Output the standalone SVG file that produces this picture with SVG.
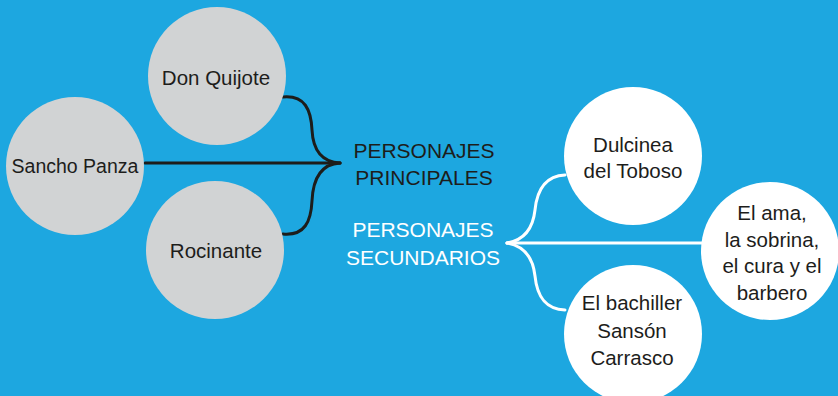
<svg xmlns="http://www.w3.org/2000/svg" width="838" height="396" viewBox="0 0 838 396">
<style>
.bg{fill:#1da7e0}
.grey{fill:#d1d3d4}
.white{fill:#ffffff}
.t{font-family:"Liberation Sans",Arial,sans-serif;font-size:20.5px;fill:#1d1d1b;text-anchor:middle}
.h{font-family:"Liberation Sans",Arial,sans-serif;font-size:21px;text-anchor:middle}
.dk{stroke:#1d1d1b;stroke-width:3;fill:none;stroke-linecap:round}
.wl{stroke:#ffffff;stroke-width:3;fill:none;stroke-linecap:round}
</style>
<rect class="bg" x="0" y="0" width="838" height="396"/>
<g id="connectors">
<path class="dk" d="M283,97 C305,95 311,110 312,130 C313,150 322,162 340,163"/>
<path class="dk" d="M283,234 C305,236 311,221 312,201 C313,178 322,164 340,163"/>
<path class="dk" d="M145,163 L340,163"/>
<path class="wl" d="M507,243 C525,240 533,228 535,210 C537,190 545,176 565,175"/>
<path class="wl" d="M507,243 C525,246 533,258 535,276 C537,296 545,309 565,310"/>
<path class="wl" d="M507,243 L702,243"/>
</g>
<g id="don-quijote">
<circle class="grey" cx="217" cy="76" r="69"/>
<text class="t" x="216" y="85">Don Quijote</text>
</g>
<g id="sancho-panza">
<circle class="grey" cx="75" cy="166" r="69"/>
<text class="t" x="75" y="173" style="font-size:19.5px">Sancho Panza</text>
</g>
<g id="rocinante">
<circle class="grey" cx="215" cy="250" r="69"/>
<text class="t" x="216" y="258">Rocinante</text>
</g>
<g id="principales">
<text class="h" x="424" y="158" fill="#1d1d1b">PERSONAJES</text>
<text class="h" x="424" y="185" fill="#1d1d1b">PRINCIPALES</text>
</g>
<g id="secundarios">
<text class="h" x="423" y="237" fill="#ffffff">PERSONAJES</text>
<text class="h" x="423" y="265" fill="#ffffff">SECUNDARIOS</text>
</g>
<g id="dulcinea">
<circle class="white" cx="633" cy="156" r="69"/>
<text class="t" x="633" y="152">Dulcinea</text>
<text class="t" x="633" y="178">del Toboso</text>
</g>
<g id="el-ama">
<circle class="white" cx="770" cy="251" r="69"/>
<text class="t" x="772" y="220">El ama,</text>
<text class="t" x="772" y="247">la sobrina,</text>
<text class="t" x="772" y="273">el cura y el</text>
<text class="t" x="772" y="300">barbero</text>
</g>
<g id="bachiller">
<circle class="white" cx="633" cy="334" r="69"/>
<text class="t" x="632" y="310">El bachiller</text>
<text class="t" x="632" y="338">Sansón</text>
<text class="t" x="632" y="365">Carrasco</text>
</g>
</svg>
